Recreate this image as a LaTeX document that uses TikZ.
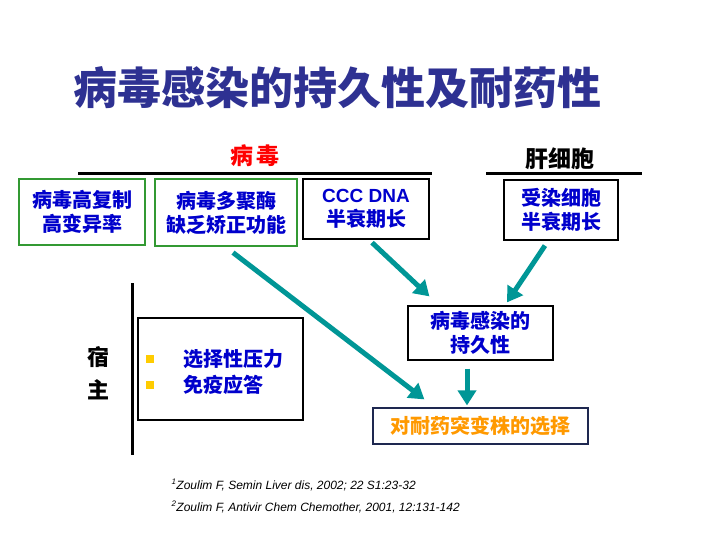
\documentclass[tikz,border=0pt]{standalone}
\usepackage{fontspec}
\setmainfont{Liberation Sans}
\newfontfamily\cjk{Noto Sans CJK SC}
\usetikzlibrary{arrows.meta}
\definecolor{navy}{RGB}{46,49,146}
\definecolor{txtblue}{RGB}{0,0,204}
\definecolor{boxgreen}{RGB}{51,153,51}
\definecolor{arrteal}{RGB}{0,150,150}
\definecolor{resorange}{RGB}{255,153,0}
\definecolor{bulletyel}{RGB}{255,204,0}
\definecolor{darkframe}{RGB}{30,40,80}

\begin{document}
\begin{tikzpicture}[x=1pt,y=-1pt,
  box/.style={draw,line width=1.2pt,inner sep=0pt,align=center,text=txtblue,
    font=\cjk\bfseries\fontsize{20}{24}\selectfont},
  arr/.style={draw=arrteal,line width=5pt,-{Triangle[width=18pt,length=15pt]}},
  hd/.style={font=\cjk\bfseries\fontsize{23}{26}\selectfont}]
 \useasboundingbox (0,0) rectangle (720,540);
 \node[text=navy,font=\cjk\bfseries\fontsize{44}{48}\selectfont] (title) at (337,88) {病毒感染的持久性及耐药性};
 % headings over the boxes
 \node[hd,text=red] (virus) at (255,156) {病\,毒};
 \node[hd] (liver) at (560,159) {肝细胞};
 \draw[line width=3pt] (78,174)--(432,174);
 \draw[line width=3pt] (486,174)--(642,174);
 % top row
 \node[box,draw=boxgreen,minimum width=126,minimum height=66] (repl) at (82,212) {病毒高复制\\高变异率};
 \node[box,draw=boxgreen,minimum width=142,minimum height=67] (poly) at (226,212.5) {病毒多聚酶\\缺乏矫正功能};
 \node[box,minimum width=126,minimum height=60] (ccc) at (366,209) {{\rmfamily\bfseries\fontsize{19}{24}\selectfont CCC DNA}\\半衰期长};
 \node[box,minimum width=114,minimum height=60] (cell) at (561,210) {受染细胞\\半衰期长};
 % host side
 \draw[line width=3pt] (132,283)--(132,455);
 \node[hd,font=\cjk\bfseries\fontsize{22}{26}\selectfont] (host1) at (98,357) {宿};
 \node[hd,font=\cjk\bfseries\fontsize{22}{26}\selectfont] (host2) at (98,390) {主};
 \node[box,minimum width=165,minimum height=102] (press) at (220.5,369) {};
 \foreach \y/\t in {359/选择性压力,385/免疫应答}{
   \node[fill=bulletyel,minimum size=8,inner sep=0pt] at (150,\y) {};
   \node[box,draw=none,anchor=west] at (183,\y) {\t};}
 % outcome
 \node[box,minimum width=145,minimum height=54] (persist) at (480.5,333) {病毒感染的\\持久性};
 \node[box,draw=darkframe,text=resorange,minimum width=215,minimum height=36] (select) at (480.5,426) {对耐药突变株的选择};
 \draw[arr] ([shift={(6pt,-3pt)}]ccc.south) -- ([shift={(22pt,9pt)}]persist.north west);
 \draw[arr] ([shift={(-16pt,-5pt)}]cell.south) -- ([shift={(26.5pt,3pt)}]persist.north);
 \draw[arr] ([shift={(7pt,-6pt)}]poly.south) -- ([shift={(52pt,8pt)}]select.north west);
 \draw[arr] ([shift={(-13.5pt,-8pt)}]persist.south) -- ([shift={(-13.5pt,2pt)}]select.north);
 % references
 \node[anchor=base west,font=\itshape\fontsize{12}{13}\selectfont] (ref1) at (168,489) {\textsuperscript{1}Zoulim F, Semin Liver dis, 2002; 22 S1:23-32};
 \node[anchor=base west,font=\itshape\fontsize{12}{13}\selectfont] (ref2) at (168,511) {\textsuperscript{2}Zoulim F, Antivir Chem Chemother, 2001, 12:131-142};
\end{tikzpicture}
\end{document}
